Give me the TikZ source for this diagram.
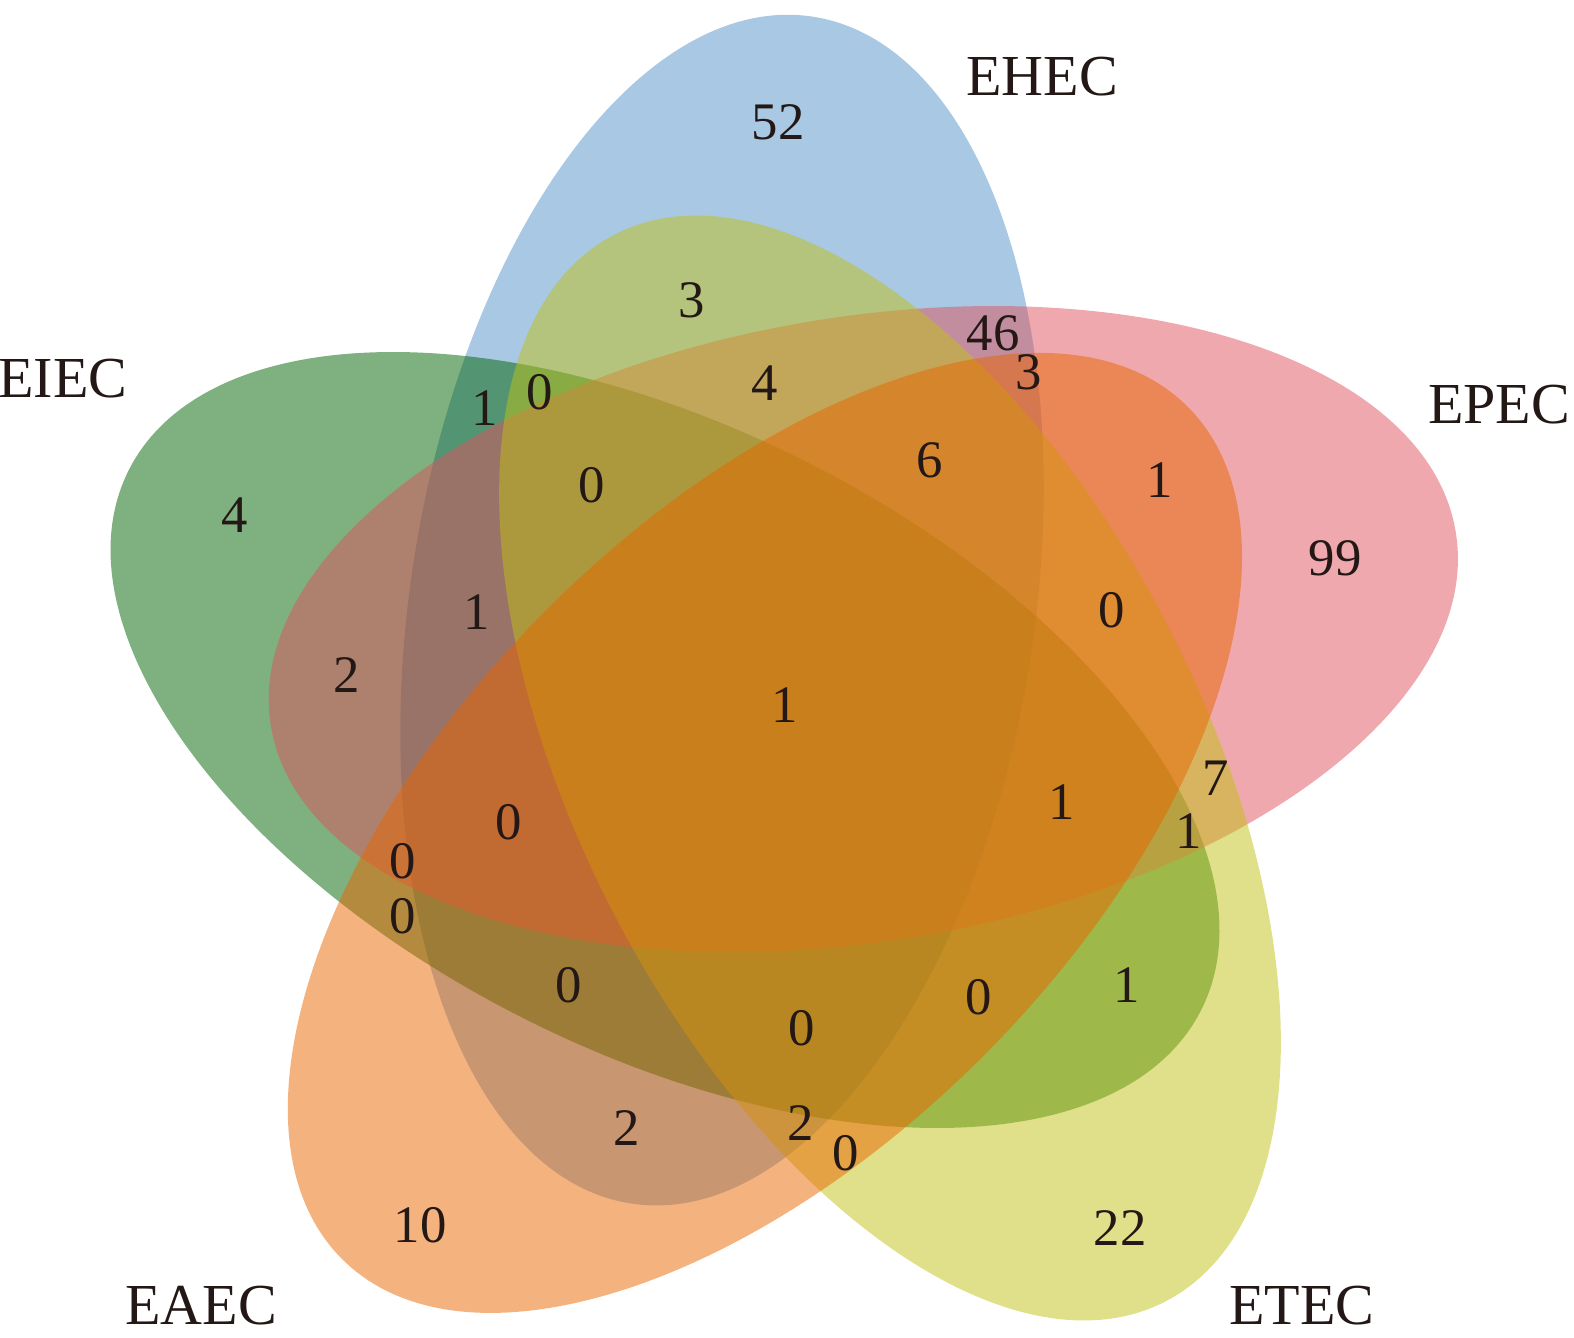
\documentclass[tikz,border=0pt]{standalone}
\usepackage{fontspec}
\setmainfont{Liberation Serif}
\definecolor{cBlue}{RGB}{81,145,201}
\definecolor{cGreen}{RGB}{0,99,2}
\definecolor{cPink}{RGB}{223,83,93}
\definecolor{cYellow}{RGB}{193,193,21}
\definecolor{cOrange}{RGB}{233,101,0}
\definecolor{txt}{RGB}{35,24,21}
\begin{document}
\begin{tikzpicture}[x=0.01cm,y=-0.01cm,
  setfill/.style={fill=#1,fill opacity=0.5,draw=none},
  num/.style={inner sep=0pt,text=txt,font=\fontsize{15}{15}\selectfont},
  setlabel/.style={inner sep=0pt,text=txt,font=\fontsize{16.5}{16.5}\selectfont}]
\useasboundingbox (0,0) rectangle (1574,1337);
% ellipses (order: blue, green, pink, yellow, orange)
\fill[setfill=cBlue,rotate around={81.3:(722,610.1)}] (722,610.1) ellipse [x radius=6cm,y radius=3.12cm];
\fill[setfill=cGreen,rotate around={153.3:(665,740)}] (665,740) ellipse [x radius=6cm,y radius=3.12cm];
\fill[setfill=cPink,rotate around={9.3:(863.3,629.1)}] (863.3,629.1) ellipse [x radius=6cm,y radius=3.12cm];
\fill[setfill=cYellow,rotate around={297.3:(890,768)}] (890,768) ellipse [x radius=6cm,y radius=3.12cm];
\fill[setfill=cOrange,rotate around={225.3:(764.9,832.9)}] (764.9,832.9) ellipse [x radius=6cm,y radius=3.12cm];
% set labels
\node[setlabel] (lEHEC) at (1042,77) {EHEC};
\node[setlabel] (lEIEC) at (63,379) {EIEC};
\node[setlabel] (lEPEC) at (1499,405) {EPEC};
\node[setlabel] (lEAEC) at (201,1306) {EAEC};
\node[setlabel] (lETEC) at (1302,1306) {ETEC};
% counts
\node[num] (n01) at (778,122) {52};
\node[num] (n02) at (692,300) {3};
\node[num] (n03) at (993,333) {46};
\node[num] (n04) at (1029,372) {3};
\node[num] (n05) at (485,408) {1};
\node[num] (n06) at (540,392) {0};
\node[num] (n07) at (765,383) {4};
\node[num] (n08) at (930,460) {6};
\node[num] (n09) at (1160,480) {1};
\node[num] (n10) at (235,515) {4};
\node[num] (n11) at (592,485) {0};
\node[num] (n12) at (1335,558) {99};
\node[num] (n13) at (477,612) {1};
\node[num] (n14) at (1112,610) {0};
\node[num] (n15) at (347,675) {2};
\node[num] (n16) at (785,705) {1};
\node[num] (n17) at (1216,778) {7};
\node[num] (n18) at (1062,802) {1};
\node[num] (n19) at (1189,831) {1};
\node[num] (n20) at (509,822) {0};
\node[num] (n21) at (403,861) {0};
\node[num] (n22) at (403,916) {0};
\node[num] (n23) at (569,985) {0};
\node[num] (n24) at (979,997) {0};
\node[num] (n25) at (1127,985) {1};
\node[num] (n26) at (802,1028) {0};
\node[num] (n27) at (627,1128) {2};
\node[num] (n28) at (801,1123) {2};
\node[num] (n29) at (846,1153) {0};
\node[num] (n30) at (420,1225) {10};
\node[num] (n31) at (1120,1228) {22};
\end{tikzpicture}
\end{document}
